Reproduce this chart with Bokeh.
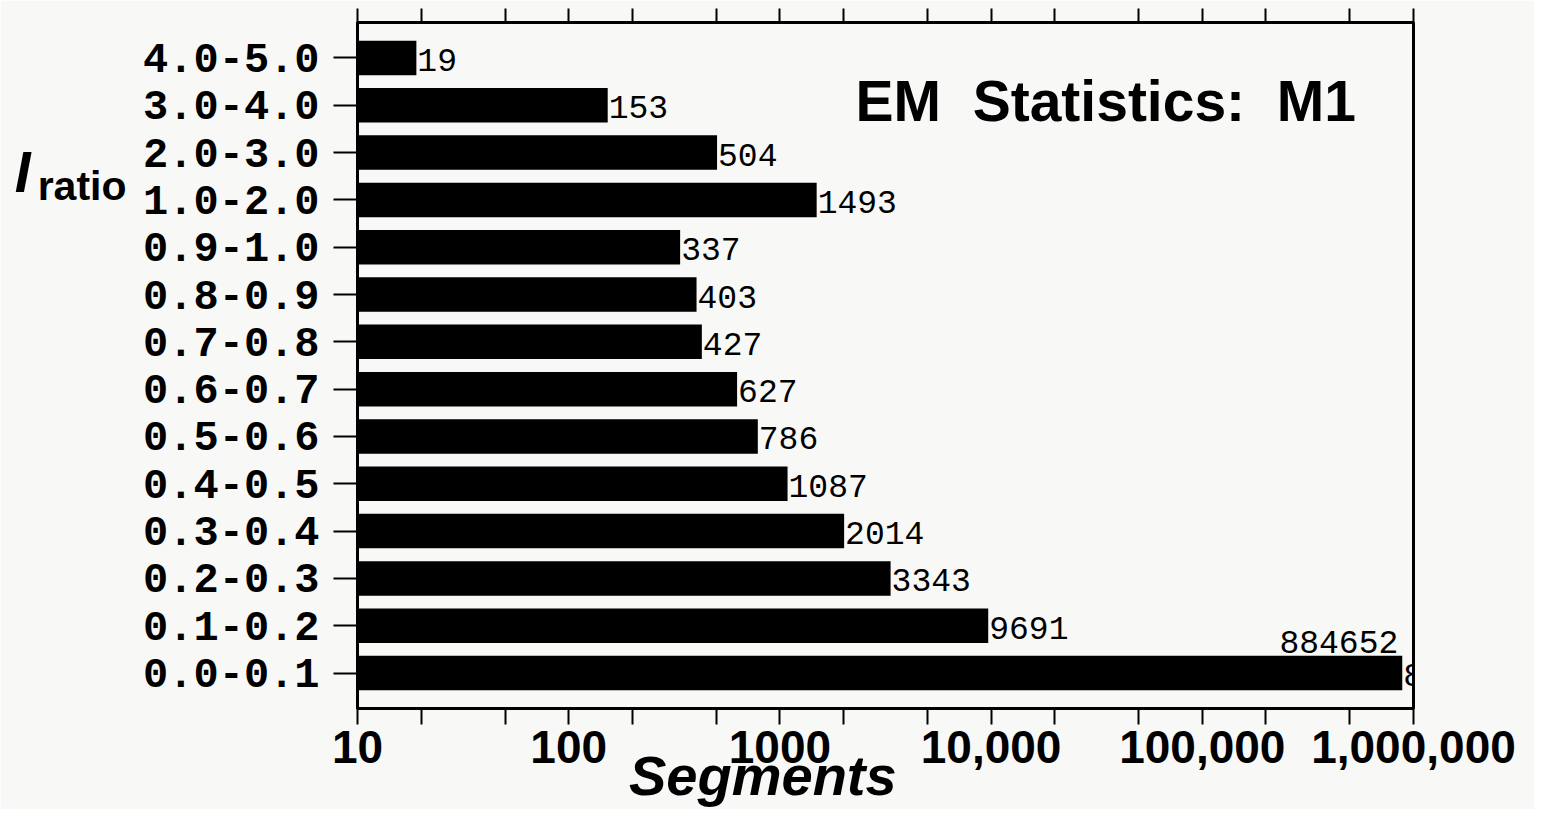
from bokeh.plotting import figure
from bokeh.models import (FactorRange, Range1d, ColumnDataSource, FixedTicker, LogAxis,
                          LinearAxis, CustomJSTickFormatter, Label)
from bokeh.core.properties import value
from bokeh.embed import file_html
from bokeh.resources import INLINE

# ---- data ----
categories = ["0.0-0.1", "0.1-0.2", "0.2-0.3", "0.3-0.4", "0.4-0.5", "0.5-0.6", "0.6-0.7",
              "0.7-0.8", "0.8-0.9", "0.9-1.0", "1.0-2.0", "2.0-3.0", "3.0-4.0", "4.0-5.0"]
segments = [884652, 9691, 3343, 2014, 1087, 786, 627, 427, 403, 337, 1493, 504, 153, 19]
tick_values = [10, 20, 50, 100, 200, 500, 1000, 2000, 5000, 10000, 20000, 50000,
               100000, 200000, 500000, 1000000]
decade_values = [10, 100, 1000, 10000, 100000, 1000000]
decade_labels = ["10", "100", "1000", "10,000", "100,000", "1,000,000"]
x_start = 10
x_end = 1000000
title_text = "EM \u00a0Statistics: \u00a0M1"
x_title = "Segments"
x_title_at = 830          # where the x title sits along the log axis
y_title_main = "I"
y_title_sub = "ratio"
y_title_main_at = 11.09   # position on the category axis (in category units)
y_title_sub_at = 10.80

bg = "#f8f8f7"

src = ColumnDataSource(dict(
    cat=categories,
    seg=segments,
    left=[x_start] * len(segments),
    label=[str(v) for v in segments],
))

p = figure(width=1534, height=809, x_axis_type="log",
           x_range=Range1d(x_start, x_end),
           y_range=FactorRange(factors=categories, range_padding=0.25,
                               range_padding_units="absolute"),
           output_backend="svg", toolbar_location=None,
           min_border_left=357, min_border_right=121, min_border_top=22,
           min_border_bottom=97,
           background_fill_color=bg, border_fill_color=bg,
           outline_line_color="black", outline_line_width=3)

p.xgrid.visible = False
p.ygrid.visible = False

formatter = CustomJSTickFormatter(args=dict(vals=decade_values, labels=decade_labels), code="""
for (let i = 0; i < vals.length; i++) {
  if (Math.abs(tick - vals[i]) < 1e-6 * vals[i]) { return labels[i]; }
}
return "";
""")

xa = p.xaxis[0]
xa.ticker = FixedTicker(ticks=tick_values)
xa.formatter = formatter
xa.major_tick_out = 16
xa.major_tick_in = 0
xa.major_tick_line_width = 2
xa.minor_tick_line_color = None
xa.axis_line_width = 3
xa.major_label_text_font = "Liberation Sans"
xa.major_label_text_font_style = "bold"
xa.major_label_text_font_size = "46px"
xa.major_label_text_color = "black"
xa.major_label_standoff = 6

# x title, drawn as a label-only axis below the tick labels
xt = LogAxis(ticker=FixedTicker(ticks=[x_title_at]),
             formatter=CustomJSTickFormatter(args=dict(t=x_title), code="return t;"),
             axis_line_color=None, major_tick_line_color=None, minor_tick_line_color=None,
             major_tick_out=0, major_tick_in=0, major_label_standoff=-22,
             major_label_text_font="Liberation Sans", major_label_text_font_style="bold italic",
             major_label_text_font_size="56px", major_label_text_color="black")
p.add_layout(xt, "below")

top = LogAxis(ticker=FixedTicker(ticks=tick_values), major_tick_out=14, major_tick_in=0,
              major_tick_line_width=2, minor_tick_line_color=None, axis_line_width=3,
              major_label_text_font_size="0px", major_label_standoff=0)
top.formatter = CustomJSTickFormatter(code="return '';")
p.add_layout(top, "above")

ya = p.yaxis[0]
ya.major_tick_out = 24
ya.major_tick_in = 0
ya.major_tick_line_width = 2
ya.minor_tick_line_color = None
ya.axis_line_width = 3
ya.major_label_text_font = "Liberation Mono"
ya.major_label_text_font_style = "bold"
ya.major_label_text_font_size = "42px"
ya.major_label_text_color = "black"
ya.major_label_standoff = 14

# y title "I_ratio", drawn as two label-only axes left of the category labels
ysub = LinearAxis(ticker=FixedTicker(ticks=[y_title_sub_at]),
                  formatter=CustomJSTickFormatter(args=dict(t=y_title_sub), code="return t;"),
                  axis_line_color=None, major_tick_line_color=None, minor_tick_line_color=None,
                  major_tick_out=0, major_tick_in=0, major_label_standoff=14,
                  major_label_text_font="Liberation Sans", major_label_text_font_style="bold",
                  major_label_text_font_size="41px", major_label_text_color="black")
p.add_layout(ysub, "left")
ymain = LinearAxis(ticker=FixedTicker(ticks=[y_title_main_at]),
                   formatter=CustomJSTickFormatter(args=dict(t=y_title_main), code="return t;"),
                   axis_line_color=None, major_tick_line_color=None, minor_tick_line_color=None,
                   major_tick_out=0, major_tick_in=0, major_label_standoff=4,
                   major_label_text_font="Liberation Sans",
                   major_label_text_font_style="bold italic",
                   major_label_text_font_size="57px", major_label_text_color="black")
p.add_layout(ymain, "left")

p.hbar(y="cat", left="left", right="seg", height=0.73, source=src,
       fill_color="black", line_color=None)

p.text(x="seg", y="cat", text="label", source=src, text_font=value("Liberation Mono"),
       text_font_size="33px", text_align="left", text_baseline="middle",
       x_offset=1, y_offset=2, text_color="black")

# the largest value is also written above its bar
p.text(x=[segments[0]], y=[categories[0]], text=[str(segments[0])],
       text_font=value("Liberation Mono"), text_font_size="33px",
       text_align="right", text_baseline="middle", x_offset=-4, y_offset=-31,
       text_color="black")

p.add_layout(Label(x=498, y=608, x_units="screen", y_units="screen", text=title_text,
                   text_font="Liberation Sans", text_font_style="bold",
                   text_font_size="57px", text_baseline="alphabetic", text_color="black"))

open("out.html", "w").write(file_html(p, INLINE))
